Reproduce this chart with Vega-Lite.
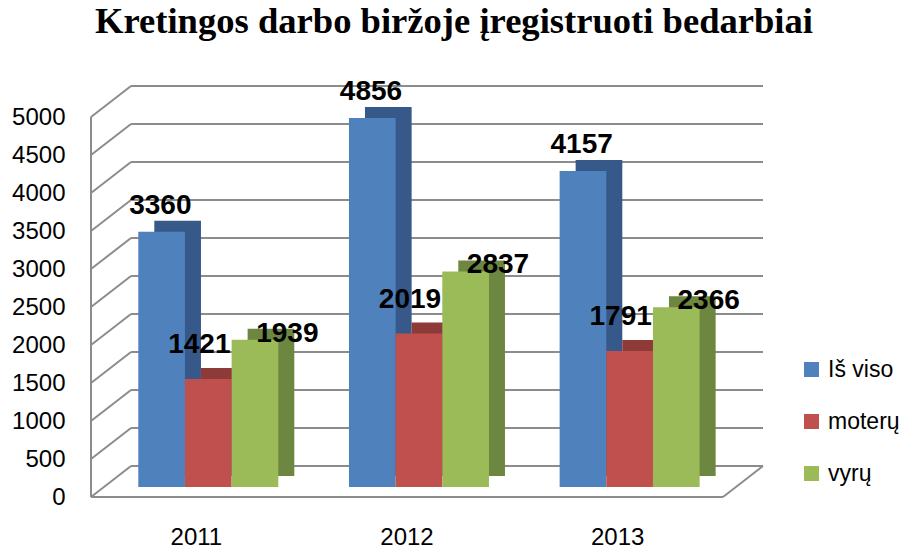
{
  "$schema": "https://vega.github.io/schema/vega-lite/v6.json",
  "width": 632,
  "height": 380,
  "autosize": {"type": "none"},
  "padding": {"left": 91, "top": 117, "right": 184, "bottom": 54},
  "background": "white",
  "title": {
    "text": "Kretingos darbo biržoje įregistruoti bedarbiai",
    "font": "Liberation Serif",
    "fontSize": 36.6,
    "fontWeight": "bold",
    "color": "black",
    "anchor": "middle",
    "baseline": "alphabetic",
    "dx": 47,
    "offset": 8
  },
  "config": {
    "view": {"stroke": null},
    "axis": {"labelFont": "Liberation Sans", "labelColor": "black", "domain": false, "ticks": false, "tickSize": 0, "grid": false, "title": null, "labelOverlap": false},
    "legend": {"labelFont": "Liberation Sans"}
  },
  "datasets": {
    "bars": [
      {"year": "2011", "series": "Iš viso", "value": 3360},
      {"year": "2011", "series": "moterų", "value": 1421},
      {"year": "2011", "series": "vyrų", "value": 1939},
      {"year": "2012", "series": "Iš viso", "value": 4856},
      {"year": "2012", "series": "moterų", "value": 2019},
      {"year": "2012", "series": "vyrų", "value": 2837},
      {"year": "2013", "series": "Iš viso", "value": 4157},
      {"year": "2013", "series": "moterų", "value": 1791},
      {"year": "2013", "series": "vyrų", "value": 2366}
    ],
    "ticks": [
      {"v": 0}, {"v": 500}, {"v": 1000}, {"v": 1500}, {"v": 2000}, {"v": 2500},
      {"v": 3000}, {"v": 3500}, {"v": 4000}, {"v": 4500}, {"v": 5000}
    ]
  },
  "layer": [
    {
      "data": {"name": "ticks"},
      "mark": {"type": "rule", "color": "#8C8C8C", "strokeWidth": 2, "xOffset": 40, "x2Offset": 40, "yOffset": -31},
      "encoding": {
        "y": {"field": "v", "type": "quantitative", "scale": {"domain": [0, 5000], "nice": false},
              "axis": {"format": "d", "labelFontSize": 24, "labelPadding": 26, "labelOverlap": false, "labelBound": false, "tickCount": 11,
                       "values": [0, 500, 1000, 1500, 2000, 2500, 3000, 3500, 4000, 4500, 5000]}},
        "x": {"value": 0},
        "x2": {"value": "width"}
      }
    },
    {
      "data": {"name": "ticks"},
      "mark": {"type": "rule", "color": "#8C8C8C", "strokeWidth": 2, "x2Offset": 40, "y2Offset": -31},
      "encoding": {
        "y": {"field": "v", "type": "quantitative"},
        "y2": {"field": "v"},
        "x": {"value": 0},
        "x2": {"value": 0}
      }
    },
    {
      "data": {"name": "ticks"},
      "transform": [{"filter": "datum.v == 0"}],
      "mark": {"type": "rule", "color": "#8C8C8C", "strokeWidth": 2},
      "encoding": {
        "y": {"field": "v", "type": "quantitative"},
        "x": {"value": 0},
        "x2": {"value": "width"}
      }
    },
    {
      "data": {"name": "ticks"},
      "transform": [{"filter": "datum.v == 0"}],
      "mark": {"type": "rule", "color": "#8C8C8C", "strokeWidth": 2, "x2Offset": 40, "y2Offset": -31},
      "encoding": {
        "y": {"field": "v", "type": "quantitative"},
        "y2": {"field": "v"},
        "x": {"value": "width"},
        "x2": {"value": "width"}
      }
    },
    {
      "data": {"name": "ticks"},
      "transform": [{"filter": "datum.v == 0"}],
      "mark": {"type": "rule", "color": "#8C8C8C", "strokeWidth": 2},
      "encoding": {
        "y": {"field": "v", "type": "quantitative"},
        "y2": {"datum": 5000},
        "x": {"value": 0}
      }
    },
    {
      "data": {"name": "bars"},
      "mark": {"type": "bar", "yOffset": -21, "y2Offset": -21},
      "encoding": {
        "x": {"field": "year", "type": "nominal", "scale": {"paddingInner": 0, "paddingOuter": 0},
              "axis": {"labelAngle": 0, "labelFontSize": 24, "labelPadding": 28}},
        "xOffset": {"field": "series", "type": "nominal", "scale": {"range": [63.3, 203.3], "paddingInner": 0, "paddingOuter": 0}},
        "y": {"field": "value", "type": "quantitative"},
        "color": {"field": "series", "type": "nominal", "legend": null,
                  "scale": {"domain": ["Iš viso", "moterų", "vyrų"], "range": ["#36598A", "#8E3A38", "#6D8640"]}}
      }
    },
    {
      "data": {"name": "bars"},
      "mark": {"type": "bar", "yOffset": -10, "y2Offset": -10},
      "encoding": {
        "x": {"field": "year", "type": "nominal", "scale": {"paddingInner": 0, "paddingOuter": 0}},
        "xOffset": {"field": "series", "type": "nominal", "scale": {"range": [47.3, 187.3], "paddingInner": 0, "paddingOuter": 0}},
        "y": {"field": "value", "type": "quantitative"},
        "color": {"field": "series", "type": "nominal", "title": null,
                  "scale": {"domain": ["Iš viso", "moterų", "vyrų"], "range": ["#4F81BD", "#C0504D", "#9BBB59"]},
                  "legend": {"orient": "none", "legendX": 709, "legendY": 241, "padding": 0,
                             "symbolType": "square", "symbolSize": 225, "symbolStrokeWidth": 0,
                             "labelFontSize": 23, "labelColor": "black", "labelOffset": 5, "rowPadding": 28}}
      }
    },
    {
      "data": {"name": "bars"},
      "transform": [{"filter": "datum.series == 'Iš viso'"}],
      "mark": {"type": "text", "font": "Liberation Sans", "fontSize": 28, "fontWeight": "bold", "color": "black", "baseline": "alphabetic", "xOffset": -36, "yOffset": -28},
      "encoding": {
        "x": {"field": "year", "type": "nominal"},
        "y": {"field": "value", "type": "quantitative"},
        "text": {"field": "value", "type": "quantitative", "format": "d"}
      }
    },
    {
      "data": {"name": "bars"},
      "transform": [{"filter": "datum.series == 'moterų'"}],
      "mark": {"type": "text", "font": "Liberation Sans", "fontSize": 28, "fontWeight": "bold", "color": "black", "baseline": "alphabetic", "xOffset": 3, "yOffset": -36},
      "encoding": {
        "x": {"field": "year", "type": "nominal"},
        "y": {"field": "value", "type": "quantitative"},
        "text": {"field": "value", "type": "quantitative", "format": "d"}
      }
    },
    {
      "data": {"name": "bars"},
      "transform": [{"filter": "datum.series == 'vyrų'"}],
      "mark": {"type": "text", "font": "Liberation Sans", "fontSize": 28, "fontWeight": "bold", "color": "black", "baseline": "alphabetic", "xOffset": 91, "yOffset": -8},
      "encoding": {
        "x": {"field": "year", "type": "nominal"},
        "y": {"field": "value", "type": "quantitative"},
        "text": {"field": "value", "type": "quantitative", "format": "d"}
      }
    }
  ],
  "resolve": {"scale": {"color": "independent", "xOffset": "independent"}}
}
